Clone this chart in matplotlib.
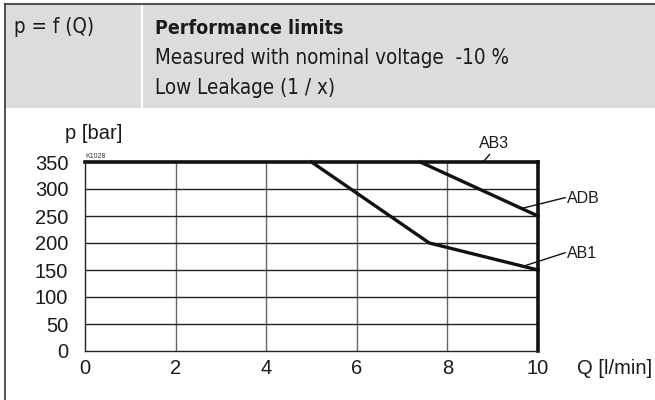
import matplotlib
matplotlib.use("Agg")
import matplotlib.pyplot as plt
from matplotlib.patches import Rectangle
from matplotlib.lines import Line2D

# figure size in pixels
W, H = 655, 400

# performance limit curves, Q [l/min] -> p [bar]
q_ab3 = [0, 10]
p_ab3 = [350, 350]
q_ab1 = [5.0, 7.6, 10]
p_ab1 = [350, 200, 150]
q_adb = [7.4, 10]
p_adb = [350, 250]

x_ticks = [0, 2, 4, 6, 8, 10]
y_ticks = [0, 50, 100, 150, 200, 250, 300, 350]

header_left = "p = f (Q)"
header_title = "Performance limits"
header_lines = ["Measured with nominal voltage  -10 %", "Low Leakage (1 / x)"]

narrow = ["DejaVu Sans"]
arial = ["Liberation Sans", "DejaVu Sans"]


def fx(px):
    return px / W


def fy(py):
    return 1 - py / H


fig = plt.figure(figsize=(W / 100, H / 100), dpi=100)
fig.patch.set_facecolor("white")

# header boxes (grey cells) and frame
fig.patches.append(Rectangle((fx(5), fy(108)), fx(141) - fx(5), fy(4) - fy(108),
                             transform=fig.transFigure, facecolor="#dcdcdc", edgecolor="none"))
fig.patches.append(Rectangle((fx(143), fy(108)), fx(655) - fx(143), fy(4) - fy(108),
                             transform=fig.transFigure, facecolor="#dcdcdc", edgecolor="none"))
fig.lines.append(Line2D([fx(5), fx(655)], [fy(4), fy(4)], transform=fig.transFigure,
                        color="#555555", lw=1.5))
fig.lines.append(Line2D([fx(5), fx(5)], [fy(4), fy(400)], transform=fig.transFigure,
                        color="#333333", lw=1.2))

hdr = dict(family=narrow, fontstretch="condensed", color="#1a1a1a", va="baseline")
fig.text(fx(14), fy(33), header_left, fontsize=14.8, **hdr)
fig.text(fx(155), fy(34), header_title, fontsize=14.0, fontweight="bold", **hdr)
for i, line in enumerate(header_lines):
    fig.text(fx(155), fy(64 + 30 * i), line, fontsize=14.8, **hdr)

# chart
ax = fig.add_axes([fx(85), fy(351), fx(538) - fx(85), fy(162) - fy(351)])
ax.set_xlim(0, 10)
ax.set_ylim(0, 350)
for s in ["top", "right"]:
    ax.spines[s].set_visible(False)
for s in ["left", "bottom"]:
    ax.spines[s].set_linewidth(1.0)
    ax.spines[s].set_color("#222222")

ax.set_xticks(x_ticks)
ax.set_yticks(y_ticks)
ax.tick_params(length=0, labelsize=14.5, colors="#1a1a1a")
ax.tick_params(axis="x", pad=6)
ax.tick_params(axis="y", pad=12)
for lab in ax.get_xticklabels() + ax.get_yticklabels():
    lab.set_family(arial)

for q in x_ticks[1:-1]:
    ax.axvline(q, color="#666666", lw=1.0, zorder=1)
for p in y_ticks[1:-1]:
    ax.axhline(p, color="#222222", lw=1.0, zorder=1)

# frame right side and AB3 limit
ax.plot([10, 10], [0, 350], color="#111111", lw=2.6, clip_on=False, solid_capstyle="projecting")
ax.plot(q_ab3, p_ab3, color="#111111", lw=2.6, clip_on=False, solid_capstyle="projecting")
ax.plot(q_ab1, p_ab1, color="#111111", lw=2.4, clip_on=False)
ax.plot(q_adb, p_adb, color="#111111", lw=2.4, clip_on=False)

# curve labels with leader lines
lbl = dict(family=arial, fontsize=11.5, va="center", color="#1a1a1a")
ax.plot([8.79, 8.93], [350, 364], color="#111111", lw=1.0, clip_on=False)
ax.text(9.03, 384, "AB3", ha="center", **lbl)
ax.plot([9.64, 10.6], [264, 284], color="#111111", lw=1.0, clip_on=False)
ax.text(10.64, 283, "ADB", ha="left", **lbl)
ax.plot([9.64, 10.6], [156, 182], color="#111111", lw=1.0, clip_on=False)
ax.text(10.64, 180, "AB1", ha="left", **lbl)

# axis titles and drawing number
ax.text(0.2, 392, "p [bar]", family=arial, fontsize=14.5, ha="center", va="baseline", color="#1a1a1a")
ax.text(10.86, -33, "Q [l/min]", family=arial, fontsize=14.5, ha="left", va="center",
        color="#1a1a1a")
ax.text(0.0, 357, "K1028", family=arial, fontsize=5, ha="left", va="baseline", color="#333333")

fig.savefig("out.png", dpi=100)
